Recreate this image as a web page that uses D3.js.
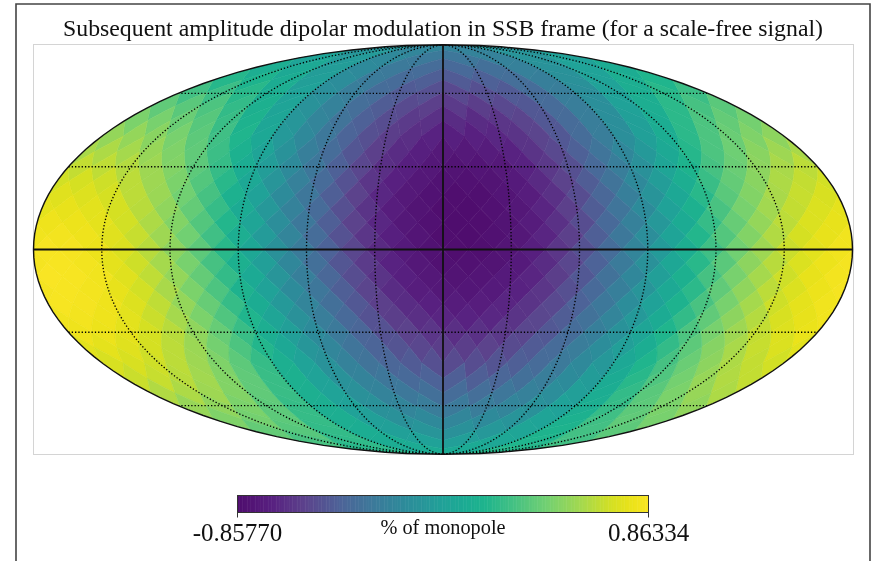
<!DOCTYPE html>
<html>
<head>
<meta charset="utf-8">
<script src="https://cdn.jsdelivr.net/npm/d3@7"></script>
<style>
    html, body { margin: 0; padding: 0; background: #fff; }
    svg { filter: blur(0.35px); }
    text { font-family: "Liberation Serif", serif; fill: #111; }
</style>
</head>
<body>
<div id="chart"></div>
<script>
// Pixel values, one list per HEALPix ring (nside 8),
// north to south, each running left to right across the picture.
const ring01 = [-.08,-.20,-.22,-.09];
const ring02 = [.02,-.05,-.18,-.29,-.31,-.23,-.10,0];
const ring03 = [.12,.07,-.03,-.17,-.29,-.37,-.39,-.35,-.24,-.11,.01,.10];
const ring04 = [.20,.17,.10,-.02,-.15,-.28,-.38,-.45,-.47,-.44,-.36,-.25,-.12,.01,.12,.18];
const ring05 = [.29,.27,.21,.12,0,-.13,-.26,-.37,-.47,-.52,-.55,-.52,-.47,-.37,-.26,-.13,0,.12,.21,.27];
const ring06 = [.38,.36,.32,.24,.14,.02,-.11,-.23,-.36,-.46,-.54,-.59,-.61,-.60,-.55,-.48,-.38,-.26,-.13,0,.12,.22,.30,.36];
const ring07 = [.46,.45,.41,.35,.26,.16,.04,-.08,-.21,-.33,-.44,-.53,-.61,-.65,-.67,-.67,-.63,-.57,-.48,-.38,-.26,-.13,-.01,.11,.22,.32,.39,.44];
const ring08 = [.53,.53,.50,.45,.37,.28,.18,.06,-.06,-.18,-.30,-.42,-.52,-.60,-.66,-.71,-.73,-.72,-.69,-.64,-.57,-.48,-.37,-.26,-.13,-.01,.11,.22,.32,.41,.47,.51];
const ring09 = [.59,.60,.58,.54,.47,.38,.27,.15,.02,-.11,-.25,-.37,-.49,-.59,-.67,-.73,-.77,-.77,-.75,-.71,-.64,-.55,-.44,-.32,-.19,-.06,.07,.20,.32,.42,.50,.56];
const ring10 = [.66,.65,.62,.56,.48,.37,.25,.11,-.03,-.17,-.31,-.44,-.56,-.66,-.73,-.78,-.81,-.80,-.77,-.71,-.62,-.52,-.39,-.26,-.12,.03,.17,.30,.41,.51,.59,.64];
const ring11 = [.70,.71,.69,.64,.56,.46,.34,.21,.06,-.09,-.24,-.38,-.51,-.63,-.72,-.78,-.82,-.83,-.81,-.76,-.68,-.58,-.46,-.33,-.18,-.03,.12,.26,.39,.50,.60,.66];
const ring12 = [.75,.74,.71,.64,.55,.43,.30,.15,0,-.16,-.31,-.45,-.58,-.69,-.77,-.82,-.85,-.84,-.80,-.74,-.65,-.53,-.40,-.25,-.10,.06,.21,.36,.48,.59,.67,.72];
const ring13 = [.77,.78,.76,.71,.63,.52,.39,.25,.09,-.07,-.23,-.38,-.52,-.64,-.74,-.81,-.85,-.86,-.83,-.78,-.70,-.59,-.46,-.32,-.16,0,.15,.31,.45,.57,.66,.73];
const ring14 = [.81,.80,.77,.70,.60,.48,.34,.19,.03,-.14,-.30,-.45,-.58,-.69,-.78,-.83,-.86,-.85,-.81,-.75,-.65,-.53,-.39,-.24,-.07,.09,.25,.40,.53,.64,.73,.78];
const ring15 = [.82,.83,.81,.75,.67,.56,.43,.28,.12,-.05,-.21,-.37,-.51,-.63,-.73,-.80,-.85,-.86,-.83,-.78,-.70,-.59,-.45,-.30,-.14,.02,.19,.34,.48,.61,.71,.78];
const ring16 = [.85,.84,.80,.73,.63,.51,.37,.21,.05,-.12,-.28,-.43,-.56,-.68,-.76,-.82,-.85,-.84,-.80,-.73,-.63,-.51,-.37,-.21,-.05,.12,.28,.43,.56,.68,.76,.82];
const ring17 = [.84,.85,.83,.77,.69,.58,.45,.30,.14,-.02,-.19,-.35,-.49,-.61,-.71,-.78,-.83,-.83,-.81,-.76,-.67,-.56,-.43,-.28,-.12,.05,.21,.36,.51,.63,.73,.80];
const ring18 = [.86,.85,.82,.75,.65,.53,.39,.24,.08,-.09,-.25,-.40,-.53,-.64,-.73,-.78,-.81,-.80,-.76,-.70,-.60,-.48,-.34,-.19,-.02,.14,.30,.45,.58,.69,.78,.83];
const ring19 = [.84,.85,.83,.78,.70,.59,.46,.32,.16,0,-.16,-.31,-.45,-.57,-.67,-.74,-.78,-.79,-.76,-.71,-.63,-.52,-.39,-.25,-.09,.07,.22,.38,.52,.64,.73,.80];
const ring20 = [.85,.84,.81,.74,.65,.53,.40,.25,.10,-.06,-.21,-.35,-.48,-.59,-.67,-.72,-.75,-.74,-.70,-.64,-.55,-.43,-.30,-.15,0,.16,.31,.45,.58,.69,.77,.82];
const ring21 = [.82,.83,.81,.76,.68,.58,.46,.33,.18,.03,-.12,-.26,-.39,-.51,-.60,-.66,-.70,-.71,-.69,-.64,-.56,-.46,-.34,-.21,-.06,.09,.24,.38,.51,.62,.72,.78];
const ring22 = [.81,.80,.77,.71,.63,.52,.40,.26,.12,-.02,-.16,-.29,-.41,-.51,-.58,-.63,-.66,-.65,-.62,-.56,-.48,-.37,-.25,-.11,.03,.18,.32,.45,.56,.66,.74,.79];
const ring23 = [.76,.77,.75,.71,.64,.55,.44,.32,.19,.06,-.08,-.20,-.32,-.42,-.50,-.56,-.60,-.60,-.58,-.54,-.47,-.38,-.27,-.15,-.02,.11,.24,.37,.49,.59,.67,.73];
const ring24 = [.72,.72,.69,.64,.56,.47,.37,.25,.13,.01,-.11,-.23,-.33,-.41,-.47,-.52,-.54,-.53,-.50,-.45,-.38,-.29,-.18,-.07,.06,.18,.30,.41,.51,.60,.66,.70];
const ring25 = [.68,.67,.63,.57,.48,.38,.26,.14,.01,-.11,-.22,-.31,-.39,-.43,-.45,-.45,-.41,-.35,-.26,-.16,-.04,.09,.21,.33,.44,.54,.61,.66];
const ring26 = [.61,.60,.56,.48,.38,.26,.13,.01,-.12,-.22,-.30,-.35,-.37,-.36,-.31,-.24,-.14,-.02,.11,.24,.36,.46,.54,.60];
const ring27 = [.54,.52,.46,.37,.25,.12,0,-.12,-.21,-.27,-.29,-.27,-.21,-.12,0,.12,.25,.37,.46,.52];
const ring28 = [.47,.44,.37,.25,.12,-.01,-.12,-.18,-.20,-.17,-.10,.02,.15,.28,.38,.45];
const ring29 = [.39,.35,.24,.11,-.01,-.09,-.12,-.07,.03,.17,.29,.37];
const ring30 = [.31,.23,.10,0,-.02,.05,.18,.29];
const ring31 = [.21,.09,.08,.20];

const rings = [ring01, ring02, ring03, ring04, ring05, ring06, ring07, ring08, ring09, ring10,
    ring11, ring12, ring13, ring14, ring15, ring16, ring17, ring18, ring19, ring20, ring21,
    ring22, ring23, ring24, ring25, ring26, ring27, ring28, ring29, ring30, ring31];

const titleText = "Subsequent amplitude dipolar modulation in SSB frame (for a scale-free signal)";
const unitText = "% of monopole";
const colorMin = -0.85770;
const colorMax = 0.86334;
const parallels = [-60, -30, 30, 60];
const meridians = [-150, -120, -90, -60, -30, 30, 60, 90, 120, 150];

// The screenshot's colour bar is a slightly washed out viridis, so read the stops off it
const stopPositions = [0, .08, .16, .25, .33, .4, .5, .55, .6, .66, .75, .83, .91, .96, 1];
const stopColors = ["#4f0d6e", "#582080", "#5c428c", "#4d6498", "#3c7a9a", "#2e8a9a", "#20a298", "#1cab93",
    "#1eb48d", "#3fbf85", "#72d072", "#a2d850", "#d5e022", "#ece31a", "#fae524"];

const width = 871, height = 561;
const nside = 8;

const svg = d3.select("#chart").append("svg")
    .attr("width", width)
    .attr("height", height)
    .style("display", "block");

// Page edge lines from the original screenshot
svg.append("path")
    .attr("d", d3.line()([[16, 561], [16, 4], [870, 4], [870, 561]]))
    .attr("fill", "none")
    .attr("stroke", "#444")
    .attr("stroke-width", 1.6);

// Axes frame
svg.append("rect")
    .attr("x", 33.5).attr("y", 44.5)
    .attr("width", 820).attr("height", 410)
    .attr("fill", "none")
    .attr("stroke", "#d4d4d4");

svg.append("text")
    .attr("x", 443).attr("y", 35.5)
    .attr("text-anchor", "middle")
    .attr("font-size", "23.8px")
    .text(titleText);

// Mollweide is not part of d3-geo core, so build it from the raw transform
function mollweideRaw(lambda, phi) {
    let theta = phi;
    if (Math.abs(Math.abs(phi) - Math.PI / 2) < 1e-9) {
        theta = phi;
    } else {
        for (let i = 0; i < 30; i++) {
            const delta = (theta + Math.sin(theta) * Math.cos(theta) - Math.PI / 2 * Math.sin(phi))
                / (1 + Math.cos(2 * theta));
            theta -= delta;
            if (Math.abs(delta) < 1e-9) break;
        }
    }
    return [2 * Math.SQRT2 / Math.PI * lambda * Math.cos(theta), Math.SQRT2 * Math.sin(theta)];
}

const projection = d3.geoProjection(mollweideRaw)
    .scale(409.5 / (2 * Math.SQRT2))
    .translate([443, 249.5])
    .rotate([0.001, 0])
    .precision(0.2);
const path = d3.geoPath(projection);

const colorT = d3.scaleLinear().domain([colorMin, colorMax]).range([0, 1]);
const colorRamp = d3.scaleLinear().domain(stopPositions).range(stopColors).clamp(true);
const color = v => colorRamp(colorT(v));

// HEALPix plane -> lon/lat. xc is the facet centre the pixel belongs to.
function planeToLonLat(xs, ys, xc) {
    const abs = Math.abs(ys);
    if (abs <= Math.PI / 4) {
        const z = ys * 8 / (3 * Math.PI);
        return [xs * 180 / Math.PI - 180, Math.asin(z) * 180 / Math.PI];
    }
    const sigma = 4 * abs / Math.PI;
    const z = (1 - (2 - sigma) * (2 - sigma) / 3) * Math.sign(ys);
    const phi = sigma >= 2 ? xc : xc + (xs - xc) / (2 - sigma);
    return [phi * 180 / Math.PI - 180, Math.asin(z) * 180 / Math.PI];
}

// Diamond outline of one pixel, as a small spherical polygon
function pixelPolygon(ring, j) {
    const d = Math.PI / (4 * nside);
    let xs, ys;
    if (ring < nside || ring > 3 * nside) {
        const north = ring < nside ? ring : 4 * nside - ring;
        const phi = (j + 0.5) * Math.PI / (2 * north);
        const phit = phi % (Math.PI / 2);
        const sigma = 2 - north / nside;
        xs = phi - (sigma - 1) * (phit - Math.PI / 4);
        ys = (ring < nside ? 1 : -1) * sigma * Math.PI / 4;
    } else {
        xs = (j + (ring % 2 === 0 ? 0.5 : 0)) * Math.PI / (2 * nside);
        ys = (2 * nside - ring) * Math.PI / (4 * nside);
    }
    const xc = (Math.floor(xs / (Math.PI / 2)) + 0.5) * Math.PI / 2;
    const corners = [[xs, ys + d], [xs + d, ys], [xs, ys - d], [xs - d, ys], [xs, ys + d]];
    const steps = 6;
    const coords = [];
    for (let c = 0; c < 4; c++) {
        for (let s = 0; s < steps; s++) {
            const t = s / steps;
            coords.push(planeToLonLat(
                corners[c][0] + (corners[c + 1][0] - corners[c][0]) * t,
                corners[c][1] + (corners[c + 1][1] - corners[c][1]) * t,
                xc));
        }
    }
    coords.push(coords[0].slice());
    const feature = { type: "Polygon", coordinates: [coords] };
    if (d3.geoArea(feature) > 2 * Math.PI) coords.reverse();
    return feature;
}

const pixels = [];
rings.forEach((values, r) => {
    values.forEach((v, j) => pixels.push({ geo: pixelPolygon(r + 1, j), value: v }));
});

const defs = svg.append("defs");
defs.append("clipPath").attr("id", "sphere-clip")
    .append("path").attr("d", path({ type: "Sphere" }));

const mapG = svg.append("g").attr("clip-path", "url(#sphere-clip)");

mapG.selectAll(".pixel")
    .data(pixels)
    .join("path")
    .attr("class", "pixel")
    .attr("d", d => path(d.geo))
    .attr("fill", d => color(d.value))
    .attr("stroke", d => color(d.value))
    .attr("stroke-width", 0.6);

// Dotted graticule
function parallelLine(lat) {
    return { type: "LineString", coordinates: d3.range(-180, 180.01, 2).map(lon => [Math.max(-179.99, Math.min(179.99, lon)), lat]) };
}
function meridianLine(lon) {
    return { type: "LineString", coordinates: d3.range(-90, 90.01, 2).map(lat => [lon, lat]) };
}

mapG.selectAll(".dotted")
    .data(parallels.map(parallelLine).concat(meridians.map(meridianLine)))
    .join("path")
    .attr("class", "dotted")
    .attr("d", path)
    .attr("fill", "none")
    .attr("stroke", "#000")
    .attr("stroke-width", 1.35)
    .attr("stroke-dasharray", "1.3 2");

// Solid equator and central meridian
mapG.selectAll(".solid")
    .data([parallelLine(0), meridianLine(0)])
    .join("path")
    .attr("class", "solid")
    .attr("d", path)
    .attr("fill", "none")
    .attr("stroke", "#111")
    .attr("stroke-width", 1.8);

svg.append("path")
    .attr("d", path({ type: "Sphere" }))
    .attr("fill", "none")
    .attr("stroke", "#111")
    .attr("stroke-width", 1.4);

// Colour bar
const barX = d3.scaleLinear().domain([colorMin, colorMax]).range([237.5, 648.5]);
const barTop = 495.5, barBottom = 512.5;
const barSteps = d3.range(256).map(i => colorMin + (colorMax - colorMin) * i / 255);
const barStep = (colorMax - colorMin) / 255;

svg.selectAll(".bar-step")
    .data(barSteps)
    .join("rect")
    .attr("class", "bar-step")
    .attr("x", d => barX(d))
    .attr("y", barTop)
    .attr("width", d => Math.max(0, Math.min(barX(colorMax), barX(d + barStep)) - barX(d)) + 0.5)
    .attr("height", barBottom - barTop)
    .attr("fill", d => color(d));

svg.append("rect")
    .attr("x", barX(colorMin)).attr("y", barTop)
    .attr("width", barX(colorMax) - barX(colorMin)).attr("height", barBottom - barTop)
    .attr("fill", "none")
    .attr("stroke", "#333");

svg.selectAll(".bar-tick")
    .data([colorMin, colorMax])
    .join("line")
    .attr("class", "bar-tick")
    .attr("x1", d => barX(d)).attr("x2", d => barX(d))
    .attr("y1", barBottom).attr("y2", barBottom + 5)
    .attr("stroke", "#333");

svg.selectAll(".bar-label")
    .data([colorMin, colorMax])
    .join("text")
    .attr("class", "bar-label")
    .attr("x", d => barX(d))
    .attr("y", 541)
    .attr("text-anchor", "middle")
    .attr("font-size", "25px")
    .text(d => d3.format(".5f")(d).replace("−", "-"));

svg.append("text")
    .attr("x", 443).attr("y", 533.5)
    .attr("text-anchor", "middle")
    .attr("font-size", "20.3px")
    .text(unitText);
</script>
</body>
</html>
